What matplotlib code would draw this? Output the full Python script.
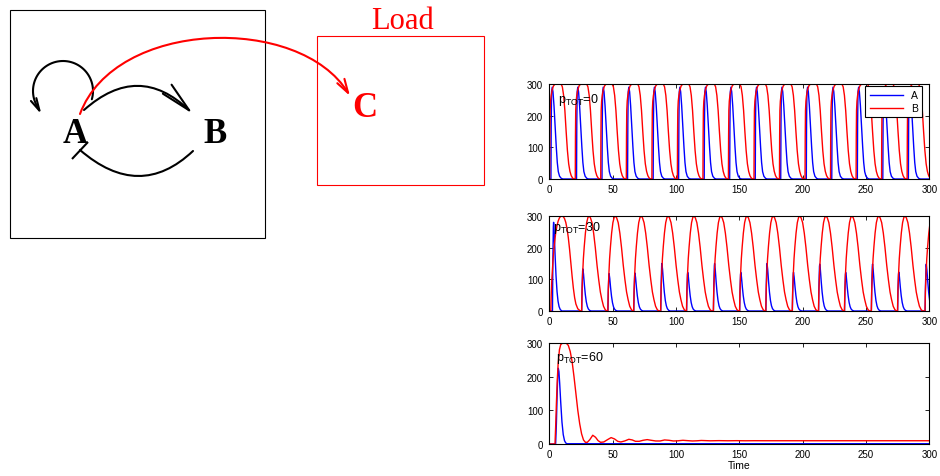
import numpy as np
import matplotlib
matplotlib.use("Agg")
import matplotlib.pyplot as plt
from matplotlib.patches import Rectangle, FancyArrowPatch
from matplotlib.path import Path

TIME_END = 300
Y_MAX = 300
TIME_TICKS = [0, 50, 100, 150, 200, 250, 300]
VALUE_TICKS = [0, 100, 200, 300]
SERIES_LABELS = ["A", "B"]
PANEL_LABELS = ["0", "30", "60"]

# --- p_TOT = 0 : sustained oscillation, all cycles alike ---
P0_B_START = [0.3, 20.5, 40.6, 60.8, 81.0, 101.1, 121.3, 141.4, 161.6, 181.7,
              201.9, 222.0, 242.2, 262.3, 282.5]
P0_A_START = [1.3, 21.5, 41.6, 61.8, 82.0, 102.1, 122.3, 142.4, 162.6, 182.7,
              202.9, 223.0, 243.2, 263.3, 283.5]
P0_A_PEAK = [290, 290, 290, 290, 290, 290, 290, 290, 290, 290, 290, 290, 290, 290, 290]
P0_B_PEAK = [300, 300, 300, 300, 300, 300, 300, 300, 300, 300, 300, 300, 300, 300, 300]
# pulse shapes read from one period (time after onset, fraction of peak)
P0_A_SHAPE_T = [0.0, 0.2, 0.5, 1.0, 1.6, 2.4, 3.3, 4.2, 5.0, 5.8, 6.8, 8.2, 9.5]
P0_A_SHAPE_Y = [0.0, 0.6, 0.95, 1.0, 0.95, 0.8, 0.57, 0.35, 0.18, 0.08, 0.03, 0.006, 0.0]
P0_B_SHAPE_T = [0.0, 0.15, 0.35, 0.7, 1.2, 2.0, 3.0, 4.3, 9.0, 10.0, 11.0, 12.0,
                13.0, 14.0, 15.0, 16.0, 17.0, 18.0, 19.0]
P0_B_SHAPE_Y = [0.0, 0.45, 0.72, 0.82, 0.88, 0.94, 0.98, 1.0, 1.0, 0.97, 0.88, 0.72,
                0.5, 0.3, 0.16, 0.08, 0.035, 0.012, 0.0]

# --- p_TOT = 30 : oscillation with alternating A peaks ---
P30_A_START = [2.5, 25.6, 46.3, 66.7, 88.0, 108.4, 129.6, 150.3, 171.0, 191.9,
               212.6, 233.1, 254.3, 275.0, 296.7]
P30_A_PEAK = [280, 133, 118, 120, 150, 122, 150, 122, 150, 122, 148, 122, 148, 123, 148]
P30_B_START = [25.5, 46.2, 66.6, 87.9, 108.3, 129.5, 150.2, 170.9, 191.8, 212.5,
               233.0, 254.2, 274.9, 296.6]
P30_B_PEAK = [300, 300, 300, 300, 300, 300, 300, 300, 300, 300, 300, 300, 300, 300]
P30_B_FIRST_T = [1.2, 1.5, 2.0, 3.0, 4.0, 5.0, 6.0, 7.0, 8.0, 9.0, 10.0, 11.0, 12.0,
                 13.0, 14.0, 15.0, 16.0, 17.0, 18.0, 19.0, 20.0, 21.0, 22.5, 24.5]
P30_B_FIRST_Y = [0, 50, 100, 165, 210, 245, 268, 284, 294, 299, 300, 298, 292,
                 280, 260, 232, 195, 152, 110, 72, 42, 22, 7, 0]
P30_A_SHAPE_T = [0.0, 0.3, 0.7, 0.9, 1.4, 2.1, 2.8, 3.6, 4.4, 5.2, 6.2, 7.5]
P30_A_SHAPE_Y = [0.0, 0.55, 0.95, 1.0, 0.88, 0.62, 0.4, 0.22, 0.11, 0.05, 0.015, 0.0]
P30_B_SHAPE_T = [0.0, 0.3, 0.8, 1.4, 2.1, 3.0, 4.0, 5.0, 6.0, 7.0, 8.2, 9.5, 10.8,
                 12.2, 13.5, 14.8, 16.0, 17.3, 18.6, 19.8]
P30_B_SHAPE_Y = [0.0, 0.2, 0.38, 0.55, 0.68, 0.82, 0.93, 0.985, 1.0, 0.98, 0.93,
                 0.82, 0.67, 0.48, 0.33, 0.2, 0.12, 0.05, 0.015, 0.0]

# --- p_TOT = 60 : one excursion then damped to steady state ---
P60_A_T = [0, 5.0, 5.6, 6.2, 6.7, 7.1, 7.6, 8.2, 9.0, 10.0, 11.0, 12.0, 13.0, 14.0, 300]
P60_A_Y = [0, 0, 60, 150, 205, 225, 215, 180, 125, 65, 28, 10, 3, 0.8, 0.8]
P60_B_T = [0, 4.5, 5.0, 5.6, 6.3, 7.0, 8.0, 9.0, 10.5, 12.0, 13.5, 15.0, 16.5, 18.0,
           19.5, 21.0, 22.5, 24.0, 25.5, 27.0, 28.5, 30.0, 32.0, 34.3, 36.5, 38.5,
           40.5, 43.0, 46.0, 48.8, 51.5, 54.0, 56.5, 59.5, 62.8, 65.5, 68.0, 71.0,
           74.0, 77.3, 80.5, 84.0, 87.5, 91.0, 94.5, 98.0, 101.5, 105.5, 109.0, 113.0,
           116.5, 120.0, 127.0, 134.0, 141.0, 148.0, 155.0, 162.0, 170.0, 185.0, 200.0, 300.0]
P60_B_Y = [0, 0, 50, 120, 190, 240, 280, 295, 300, 300, 299, 293, 275, 245,
           200, 150, 100, 60, 30, 12, 5, 5, 13, 26, 20, 10,
           5, 6, 13, 19, 15, 8, 6, 9, 14, 12, 8, 8,
           11, 13, 11, 9, 9, 12, 11, 9, 9.5, 11, 10, 9,
           9.5, 10.5, 9.5, 10, 9.6, 9.9, 9.6, 9.8, 9.7, 9.7, 9.7, 9.7]


def pulse_train(starts, peaks, shape_t, shape_y, head_t=(), head_y=()):
    t = [0.0] + list(head_t)
    y = [0.0] + list(head_y)
    for s, h in zip(starts, peaks):
        t.extend(s + np.asarray(shape_t))
        y.extend(h * np.asarray(shape_y))
    if t[-1] < TIME_END:
        t.append(TIME_END)
        y.append(0.0)
    return np.array(t), np.array(y)


def arrow(ax, verts, codes, color, style, lw=1.5):
    p = FancyArrowPatch(path=Path(verts, codes), arrowstyle=style, mutation_scale=10,
                        lw=lw, color=color, capstyle="round", joinstyle="miter")
    ax.add_patch(p)


def draw_diagram(ax):
    ax.set_xlim(0, 940)
    ax.set_ylim(477, 0)
    ax.axis("off")
    ax.add_patch(Rectangle((10, 11), 255, 228, fill=False, ec="black", lw=0.8))
    ax.add_patch(Rectangle((317, 37), 167, 149, fill=False, ec="red", lw=0.8))
    serif = ["Liberation Serif", "DejaVu Serif"]
    ax.text(402, 29, "Load", color="red", fontsize=22, family=serif, ha="center", va="baseline")
    for s, x, y, c in [("A", 75, 143, "black"), ("B", 215, 143, "black"), ("C", 365, 117, "red")]:
        ax.text(x, y, s, color=c, fontsize=25, fontweight="bold", family=serif,
                ha="center", va="baseline")

    # self loop on A: round arc, then a short steep run into the head
    th = np.radians(np.linspace(-16, 205, 60))
    loop = np.column_stack([63 + 30 * np.cos(th), 92 - 30 * np.sin(th)])
    loop = np.vstack([loop, [[41.5, 115.5]]])
    arrow(ax, loop, None, "black", "->,head_length=0.9,head_width=0.22")
    # A -> B
    arrow(ax, [(84, 111), (138.5, 62.5), (193, 115)], [Path.MOVETO, Path.CURVE3, Path.CURVE3],
          "black", "->,head_length=2.2,head_width=0.45")
    # B -| A
    arrow(ax, [(193, 152), (139.5, 202.5), (80, 151)], [Path.MOVETO, Path.CURVE3, Path.CURVE3],
          "black", "-")
    ax.plot([72, 88], [160, 143], color="black", lw=1.5, solid_capstyle="butt")
    # A -> C (load)
    arrow(ax, [(80, 115), (115, 20), (300, 15), (350, 97)],
          [Path.MOVETO, Path.CURVE4, Path.CURVE4, Path.CURVE4],
          "red", "->,head_length=1.0,head_width=0.3")


def style_panel(ax):
    ax.set_xlim(0, TIME_END)
    ax.set_ylim(0, Y_MAX)
    ax.set_xticks(TIME_TICKS)
    ax.set_yticks(VALUE_TICKS)
    ax.tick_params(direction="in", length=3, width=0.6, top=True, right=True, labelsize=7)
    ax.tick_params(axis="y", pad=4.5)
    ax.tick_params(axis="x", pad=3.5)
    for sp in ax.spines.values():
        sp.set_linewidth(0.8)


def main():
    plt.rcParams["font.family"] = ["Liberation Sans", "DejaVu Sans"]
    plt.rcParams["mathtext.default"] = "regular"

    fig = plt.figure(figsize=(9.4, 4.77), dpi=100)
    ax0 = fig.add_axes([0, 0, 1, 1])
    draw_diagram(ax0)

    H = 477.0
    left, width = 549.3 / 940, 380 / 940
    boxes = [(85, 180), (217, 312), (344, 445)]
    axes = [fig.add_axes([left, (H - b) / H, width, (b - t) / H]) for t, b in boxes]

    series = [
        (pulse_train(P0_A_START, P0_A_PEAK, P0_A_SHAPE_T, P0_A_SHAPE_Y),
         pulse_train(P0_B_START, P0_B_PEAK, P0_B_SHAPE_T, P0_B_SHAPE_Y)),
        (pulse_train(P30_A_START, P30_A_PEAK, P30_A_SHAPE_T, P30_A_SHAPE_Y),
         pulse_train(P30_B_START, P30_B_PEAK, P30_B_SHAPE_T, P30_B_SHAPE_Y,
                     P30_B_FIRST_T, P30_B_FIRST_Y)),
        ((np.array(P60_A_T), np.array(P60_A_Y)), (np.array(P60_B_T), np.array(P60_B_Y))),
    ]
    text_pos = [(6.5, 244), (3.0, 256), (5.0, 250)]

    for ax, (a, b), lab, (tx, ty) in zip(axes, series, PANEL_LABELS, text_pos):
        ax.plot(a[0], a[1], color="blue", lw=1.0, label=SERIES_LABELS[0])
        ax.plot(b[0], b[1], color="red", lw=1.0, label=SERIES_LABELS[1])
        style_panel(ax)
        ax.text(tx, ty, r"p$_{\mathregular{TOT}}$=" + lab, fontsize=9, ha="left", va="baseline")

    leg = axes[0].legend(loc="upper right", bbox_to_anchor=(1 - 7 / 380, 1 - 2 / 95),
                         borderaxespad=0, fontsize=7.5, fancybox=False, edgecolor="black",
                         framealpha=1, handlelength=3.2, handletextpad=0.8, borderpad=0.4,
                         labelspacing=0.3)
    leg.get_frame().set_linewidth(0.8)
    axes[2].set_xlabel("Time", fontsize=7.5, labelpad=1)

    fig.savefig("out.png", dpi=100)


if __name__ == "__main__":
    main()
